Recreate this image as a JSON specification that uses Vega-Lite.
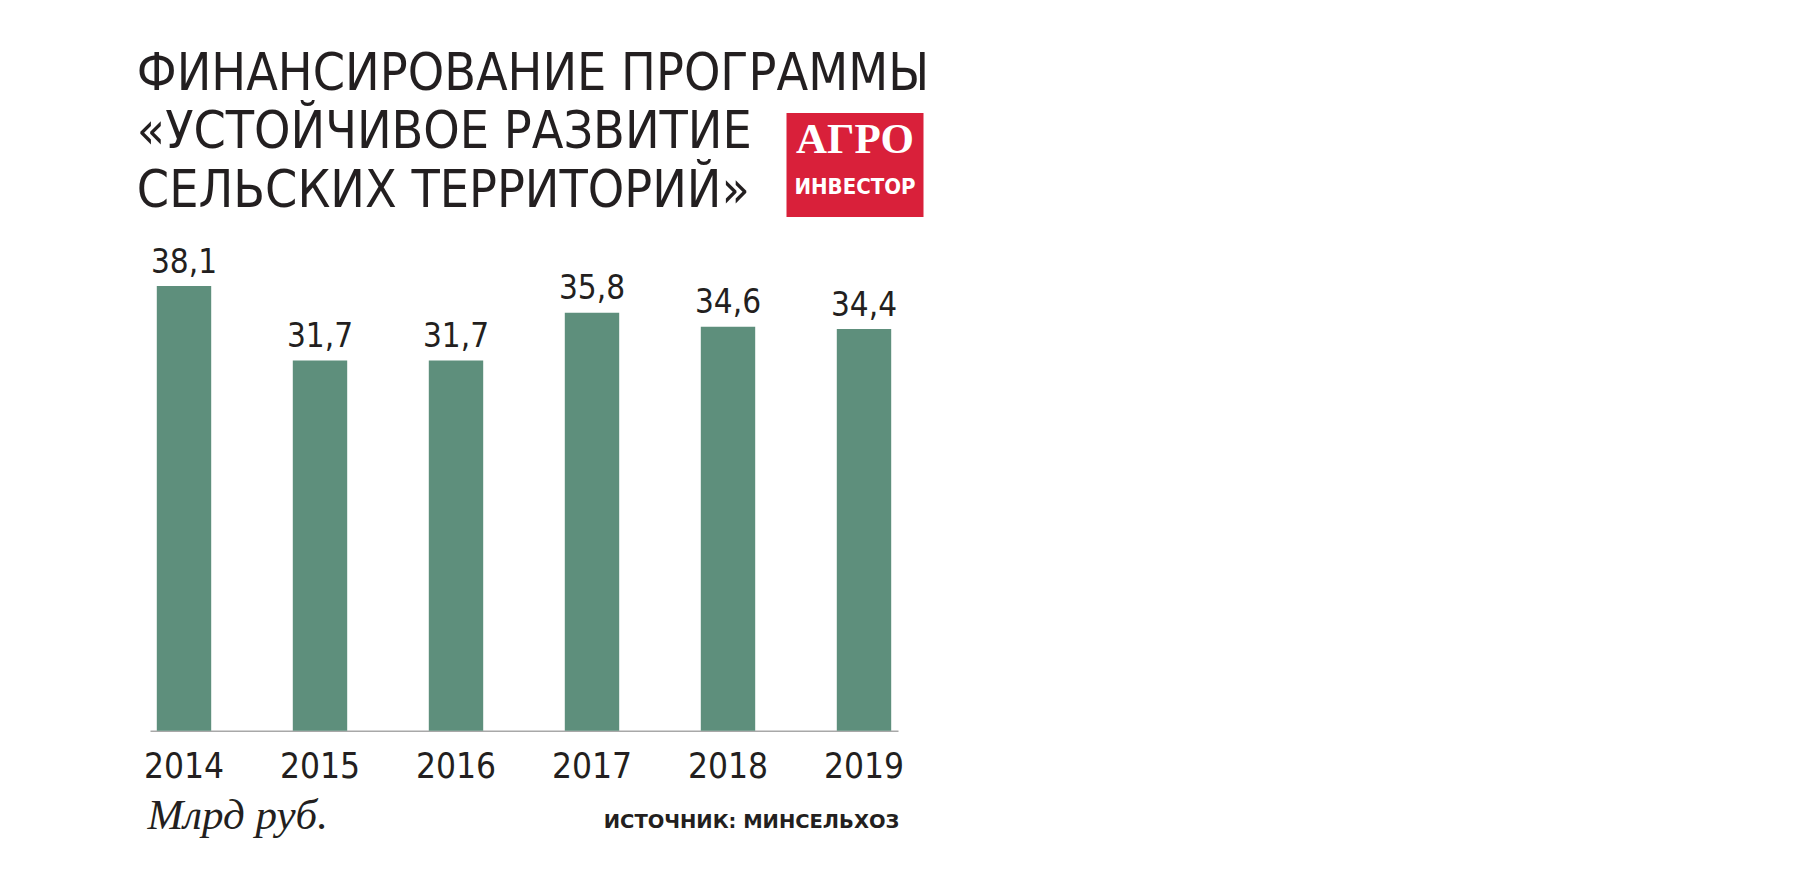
{
  "$schema": "https://vega.github.io/schema/vega-lite/v6.json",
  "autosize": "none",
  "width": 748,
  "height": 467,
  "padding": {"left": 150, "top": 263.7, "right": 908, "bottom": 145.3},
  "background": "white",
  "config": {
    "view": {"stroke": null},
    "locale": {"number": {"decimal": ",", "thousands": " ", "grouping": [3], "currency": ["", " ₽"]}}
  },
  "datasets": {
    "bars": [
      {"year": "2014", "value": 38.1},
      {"year": "2015", "value": 31.7},
      {"year": "2016", "value": 31.7},
      {"year": "2017", "value": 35.8},
      {"year": "2018", "value": 34.6},
      {"year": "2019", "value": 34.4}
    ],
    "note": [{"k": 1}]
  },
  "layer": [
    {
      "data": {"name": "bars"},
      "mark": {"type": "bar", "color": "#5e8f7c"},
      "encoding": {
        "x": {
          "field": "year", "type": "nominal", "sort": null,
          "scale": {"paddingInner": 0.6, "paddingOuter": 0.05},
          "axis": {
            "title": "Млрд руб.",
            "titleFont": "Liberation Serif", "titleFontStyle": "italic", "titleFontWeight": "normal",
            "titleFontSize": 43, "titleColor": "#231f20",
            "titleX": -3, "titleY": 97.6, "titleAlign": "left", "titleBaseline": "alphabetic", "titleAnchor": "start",
            "labelAngle": 0, "labelFont": "DejaVu Sans Condensed, sans-serif", "labelFontSize": 35, "labelColor": "#231f20",
            "labelBaseline": "alphabetic", "labelPadding": 46.3, "ticks": false, "tickSize": 0,
            "domainColor": "#a8a8a8", "domainWidth": 1.5, "grid": false
          }
        },
        "y": {"field": "value", "type": "quantitative", "scale": {"domain": [0, 40]}, "axis": null}
      }
    },
    {
      "data": {"name": "bars"},
      "mark": {"type": "text", "font": "DejaVu Sans Condensed, sans-serif", "fontSize": 33, "color": "#231f20", "baseline": "alphabetic", "dy": -13.3},
      "encoding": {
        "x": {"field": "year", "type": "nominal", "sort": null},
        "y": {"field": "value", "type": "quantitative"},
        "text": {"field": "value", "type": "quantitative", "format": ".1f"}
      }
    },
    {
      "data": {"name": "note"},
      "mark": {"type": "text", "font": "DejaVu Sans Condensed, sans-serif", "fontSize": 51.5, "color": "#231f20", "align": "left", "baseline": "alphabetic", "lineHeight": 58.5, "dx": -47.2},
      "encoding": {
        "x": {"datum": "2014"},
        "y": {"datum": 54.88},
        "text": {"value": ["ФИНАНСИРОВАНИЕ ПРОГРАММЫ", "«УСТОЙЧИВОЕ РАЗВИТИЕ", "СЕЛЬСКИХ ТЕРРИТОРИЙ»"]}
      }
    },
    {
      "data": {"name": "note"},
      "mark": {"type": "bar", "color": "#d9203a", "width": 137, "xOffset": -9},
      "encoding": {
        "x": {"datum": "2019"},
        "y": {"datum": 52.9},
        "y2": {"datum": 44.0}
      }
    },
    {
      "data": {"name": "note"},
      "mark": {"type": "text", "font": "Liberation Serif", "fontWeight": "bold", "fontSize": 43, "color": "white", "align": "center", "baseline": "alphabetic", "dx": -9},
      "encoding": {
        "x": {"datum": "2019"},
        "y": {"datum": 49.46},
        "text": {"value": "АГРО"}
      }
    },
    {
      "data": {"name": "note"},
      "mark": {"type": "text", "font": "DejaVu Sans Condensed, sans-serif", "fontWeight": "bold", "fontSize": 22, "color": "white", "align": "center", "baseline": "alphabetic", "dx": -9},
      "encoding": {
        "x": {"datum": "2019"},
        "y": {"datum": 45.93},
        "text": {"value": "ИНВЕСТОР"}
      }
    },
    {
      "data": {"name": "note"},
      "mark": {"type": "text", "font": "DejaVu Sans", "fontWeight": "bold", "fontSize": 19.5, "color": "#231f20", "align": "right", "baseline": "alphabetic", "dx": 35.4},
      "encoding": {
        "x": {"datum": "2019"},
        "y": {"datum": -8.36},
        "text": {"value": "ИСТОЧНИК: МИНСЕЛЬХОЗ"}
      }
    }
  ]
}
